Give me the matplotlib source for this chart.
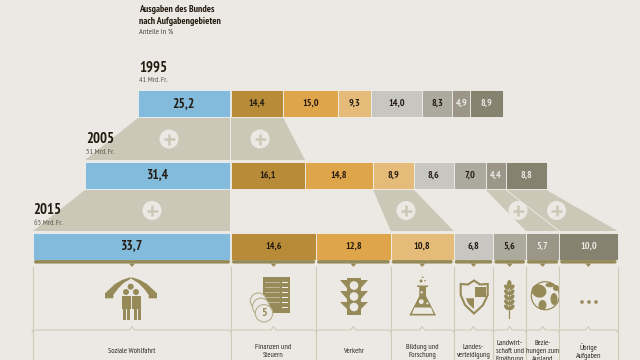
import matplotlib
matplotlib.use('Agg')
import matplotlib.pyplot as plt
from matplotlib.patches import Polygon, Circle, Rectangle, Ellipse, FancyBboxPatch

#----------------------------------------------------------------------------------
# Data
years = ['1995', '2005', '2015']
totals = ['41 Mrd. Fr.', '51 Mrd. Fr.', '65 Mrd. Fr.']
welfare = [25.2, 31.4, 33.7]
shares_1995 = [14.4, 15.0, 9.3, 14.0, 8.3, 4.9, 8.9]
shares_2005 = [16.1, 14.8, 8.9, 8.6, 7.0, 4.4, 8.8]
shares_2015 = [14.6, 12.8, 10.8, 6.8, 5.6, 5.7, 10.0]
categories = ['Soziale Wohlfahrt', 'Finanzen und\nSteuern', 'Verkehr',
              'Bildung und\nForschung', 'Landes-\nverteidigung',
              'Landwirt-\nschaft und\nErnährung', 'Bezie-\nhungen zum\nAusland',
              'Übrige\nAufgaben']

#----------------------------------------------------------------------------------
# Styles
bg = '#ece9e4'
blue = '#82bbdc'
seg_colors = ['#b78b38', '#dfa54b', '#e5bb79', '#c8c6c0', '#acaa9c', '#9b9688', '#868270']
seg_text = ['#231a10', '#231a10', '#231a10', '#231a10', '#231a10', '#ece9e4', '#ece9e4']
tan = '#ccc8b8'
icon = '#958a58'
line = '#cfcbb9'
dark = '#231a10'
narrow = ['PT Sans Narrow', 'Roboto Condensed', 'Liberation Sans Narrow', 'Liberation Sans']

fig = plt.figure(figsize=(6.4, 3.6), dpi=100, facecolor=bg)
ax = fig.add_axes([0, 0, 1, 1])
ax.set_xlim(0, 640)
ax.set_ylim(360, 0)
ax.axis('off')

scales = [3.63, 4.6, 5.83]
bar_y = [103.5, 175, 246]
bar_h = 27
split_l = 229.5
split_r = 231
all_shares = [shares_1995, shares_2005, shares_2015]

#----------------------------------------------------------------------------------
# Bars
edges = []
for i in range(3):
    s = scales[i]
    left = split_l - welfare[i] * s
    ax.barh(bar_y[i], welfare[i] * s, left=left, height=bar_h, color=blue,
            edgecolor='#f1efeb', linewidth=0.6, zorder=3)
    ax.text(left + welfare[i] * s / 2, bar_y[i], f'{welfare[i]:.1f}'.replace('.', ','),
            ha='center', va='center', fontsize=9.6, fontweight='bold', family=narrow,
            color=dark, zorder=4)
    xs = [left, split_l, split_r]
    x = split_r
    for j, v in enumerate(all_shares[i]):
        ax.barh(bar_y[i], v * s, left=x, height=bar_h, color=seg_colors[j],
                edgecolor='#f1efeb', linewidth=0.6, zorder=3)
        ax.text(x + v * s / 2, bar_y[i], f'{v:.1f}'.replace('.', ','),
                ha='center', va='center', fontsize=7.2, fontweight='bold', family=narrow,
                color=seg_text[j], zorder=4)
        x += v * s
        xs.append(x)
    edges.append(xs)


#----------------------------------------------------------------------------------
# Connecting trapezoids with plus badges
def trapezoid(x0, x1, x2, x3, y0, y1, badge_x):
    ax.add_patch(Polygon([(x0, y0), (x1, y0), (x3, y1), (x2, y1)], closed=True,
                         facecolor=tan, edgecolor='none', zorder=1))
    ym = (y0 + y1) / 2
    ax.add_patch(Circle((badge_x, ym), 9.5, facecolor=bg, edgecolor='none', zorder=2))
    ax.plot([badge_x - 5.5, badge_x + 5.5], [ym, ym], color=tan, lw=1.8, zorder=2.5,
            solid_capstyle='butt')
    ax.plot([badge_x, badge_x], [ym - 5.5, ym + 5.5], color=tan, lw=1.8, zorder=2.5,
            solid_capstyle='butt')


e95, e05, e15 = edges
trapezoid(e95[0], split_l, e05[0], split_l, 118, 160, 169)
trapezoid(split_r, e95[3], split_r, e05[3], 118, 160, 260)
trapezoid(e05[0], split_l, e15[0], split_l, 190, 231, 152)
trapezoid(e05[4], e05[5], e15[4], e15[5], 190, 231, 406)
trapezoid(e05[7], e05[8], e15[7], e15[8], 190, 231, 518)
trapezoid(e05[8], e05[9], e15[8], e15[9], 190, 231, 556.5)
ax.plot([e05[8], e15[8]], [190, 231], color=bg, lw=0.6, zorder=1.5)

#----------------------------------------------------------------------------------
# Header
ax.text(139, 9.5, 'Ausgaben des Bundes', fontsize=7, fontweight='bold', family=narrow,
        color=dark, va='center')
ax.text(139, 21, 'nach Aufgabengebieten', fontsize=7, fontweight='bold', family=narrow,
        color=dark, va='center')
ax.text(139, 32.5, 'Anteile in %', fontsize=5.9, family=narrow, color='#4a443a', va='center')

year_x = [139, 86, 33.5]
year_y = [68, 139, 210.5]
for i in range(3):
    ax.text(year_x[i], year_y[i], years[i], fontsize=10.5, fontweight='bold', family=narrow,
            color=dark, va='center', zorder=5)
    ax.text(year_x[i], year_y[i] + 13, totals[i], fontsize=5.7, family=narrow,
            color='#5a5448', va='center', zorder=5)

#----------------------------------------------------------------------------------
# Column frames under the 2015 bar
col_x = [e15[0], split_r] + e15[3:]
for k in range(8):
    x0 = col_x[k] + 0.5
    x1 = col_x[k + 1] - 0.5
    cx = (x0 + x1) / 2
    ax.add_patch(FancyBboxPatch((x0 + 1, 260.5), x1 - x0 - 2, 2.6,
                                boxstyle='round,pad=0,rounding_size=1.2',
                                facecolor=icon, edgecolor=icon, lw=0.6, zorder=3))
    ax.add_patch(Polygon([(cx - 3, 263.5), (cx + 3, 263.5), (cx, 267)], closed=True,
                         facecolor=icon, edgecolor='none', zorder=3))
    ax.plot([x0 + 1.5, cx - 2.5, cx, cx + 2.5, x1 - 1.5], [330, 330, 326.5, 330, 330],
            color=line, lw=0.8, zorder=2)
    ax.text(cx, 351.5, categories[k], ha='center', va='center', fontsize=5.6,
            family=narrow, color='#2e281e', linespacing=1.2, zorder=4, clip_on=True)
for x in col_x:
    ax.plot([x, x], [267, 360], color=line, lw=0.8, zorder=2)
    ax.add_patch(Polygon([(x - 2, 330), (x + 2, 330), (x, 333)], closed=True,
                         facecolor=line, edgecolor='none', zorder=2))


#----------------------------------------------------------------------------------
# Icons
def poly(pts, color=icon, z=4):
    ax.add_patch(Polygon(pts, closed=True, facecolor=color, edgecolor='none', zorder=z))


def circ(x, y, r, color=icon, z=4):
    ax.add_patch(Circle((x, y), r, facecolor=color, edgecolor='none', zorder=z))


def rect(x, y, w, h, color=icon, z=4):
    ax.add_patch(Rectangle((x, y), w, h, facecolor=color, edgecolor='none', zorder=z))


# hands and people
hand = [(105, 298.3), (105, 293.3), (115, 284), (122, 280), (130, 277.3), (131, 278.5),
        (123.3, 283.3), (118.3, 288.3), (113.3, 295), (113.3, 298.3)]
poly(hand)
poly([(262 - x, y) for x, y in hand])
circ(130.7, 286.7, 3)
circ(126, 292, 3)
circ(136, 292, 3)
rect(121.7, 296, 8.8, 13.3)
rect(132.3, 296, 8.8, 13.3)
for x in [123.3, 126.9, 133.9, 137.5]:
    rect(x, 309, 3, 10.5)

# document and coins
rect(263.3, 277.3, 26.7, 35.4)
for y in [282.3, 287.3, 292.3, 297.3, 302.3, 307]:
    rect(282.3, y - 0.5, 6, 1, '#f4f2ee')
    rect(265, y - 0.25, 15, 0.5, '#bdb696')
for x, y, r in [(258.3, 301, 8), (261, 306.7, 8.5), (264, 313.3, 8.7)]:
    ax.add_patch(Circle((x, y), r, facecolor=bg, edgecolor='#b5ae8e', lw=0.8, zorder=5))
ax.text(264, 313.5, '5', fontsize=8.5, fontweight='bold', family=narrow, color=icon,
        ha='center', va='center', zorder=6)

# traffic light
rect(347, 278, 14, 37)
for y in [285.5, 296.5, 307]:
    circ(354, y, 4.3, bg, 5)
    poly([(340, y - 5.5), (347, y - 5.5), (347, y + 2)])
    poly([(368, y - 5.5), (361, y - 5.5), (361, y + 2)])

# flask
poly([(417, 285.5), (428, 285.5), (428, 287), (426, 287), (426, 296), (436, 315.5),
      (409.3, 315.5), (419.3, 296), (419.3, 287), (417, 287)])
poly([(414.5, 307.5), (431, 307.5), (433.5, 313.8), (412, 313.8)], bg, 5)
circ(421.3, 301.7, 2.4, bg, 5)
circ(427.3, 303.3, 1.1, bg, 5)
circ(421.7, 292.3, 1.2, bg, 5)
circ(421, 281, 1.5)
circ(425, 280.7, 0.8)
circ(422.7, 277.3, 0.8)

# shield
shield = [(460.7, 284), (468, 284.5), (474, 280.5), (480, 284.5), (487.7, 284), (487.7, 295),
          (483, 305), (474, 313.5), (465, 305), (460.7, 295)]
ax.add_patch(Polygon(shield, closed=True, facecolor=bg, edgecolor=icon, lw=1.5, zorder=4))
rect(475, 286.7, 10.5, 10.6, icon, 5)
poly([(465.7, 298.3), (474, 298.3), (474, 309), (468.5, 304)], icon, 5)

# wheat
ax.plot([509.3, 509.3], [290, 317.7], color=icon, lw=0.9, zorder=4)
for y in [287.3, 292.3, 297.3, 302.3, 307.3]:
    ax.add_patch(Ellipse((506.6, y), 3.8, 6.5, angle=-40, facecolor=icon, edgecolor='none', zorder=4))
    ax.add_patch(Ellipse((512, y), 3.8, 6.5, angle=40, facecolor=icon, edgecolor='none', zorder=4))
ax.add_patch(Ellipse((509.3, 284), 4.6, 8, facecolor=icon, edgecolor='none', zorder=4))

# globe, cut off by the column line
clip = Rectangle((527, 270), 31.7, 50, transform=ax.transData)
globe = [Circle((545.3, 295.7), 14, facecolor=bg, edgecolor=icon, lw=0.9, zorder=4),
         Ellipse((539, 291), 15, 13, angle=20, facecolor=icon, edgecolor='none', zorder=5),
         Ellipse((542.5, 305), 8, 10, facecolor=icon, edgecolor='none', zorder=5),
         Ellipse((554, 299), 7, 12, facecolor=icon, edgecolor='none', zorder=5),
         Ellipse((550, 285), 9, 4.5, facecolor=icon, edgecolor='none', zorder=5),
         Ellipse((556, 288), 6, 6, facecolor=icon, edgecolor='none', zorder=5)]
for p in globe:
    ax.add_patch(p)
    p.set_clip_path(clip)

# dots
for x in [582, 589, 596]:
    circ(x, 302, 1.8)

plt.savefig('out.png', dpi=100, facecolor=bg)
